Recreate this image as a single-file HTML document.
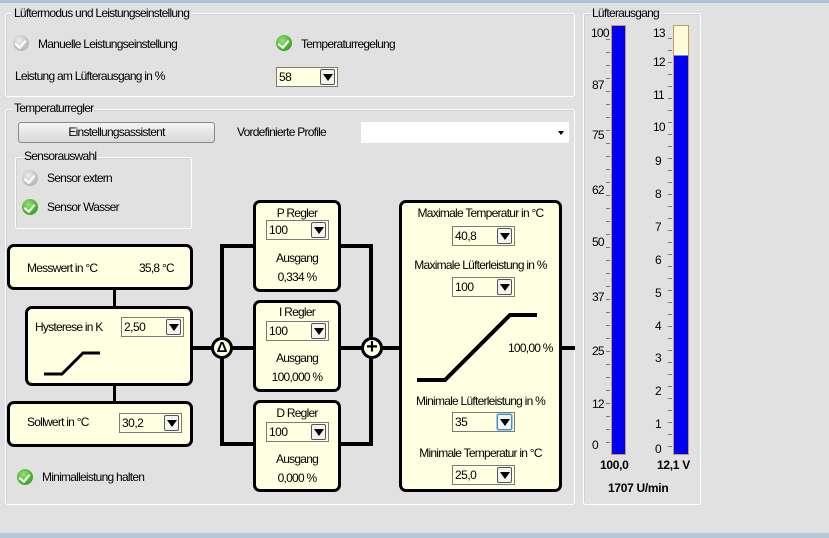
<!DOCTYPE html>
<html><head><meta charset="utf-8"><style>
*{box-sizing:border-box;margin:0;padding:0}
body{width:829px;height:538px;background:#e1e1e1;position:relative;overflow:hidden;font-family:"Liberation Sans",sans-serif;font-size:12px;color:#000}
.a{position:absolute}
.t{position:absolute;white-space:nowrap;line-height:14px;letter-spacing:-0.75px}
.grp{position:absolute;border:1px solid #fff;border-radius:3px;box-shadow:inset 1px 1px 0 #d0d0d0}
.lg{position:absolute;background:#e1e1e1;padding:0 2px;line-height:13px;white-space:nowrap;letter-spacing:-0.75px}
.box{position:absolute;background:#ffffe1;border:3px solid #000;border-radius:7px}
.cb{position:absolute;background:#ffffe1;border:1px solid #7a7a7a;height:20px;line-height:18px;padding-left:2px;letter-spacing:-0.5px}
.cb i{position:absolute;right:2px;top:1px;width:15px;height:16px;border:1px solid #555;border-radius:2px;background:#f4f4f4}
.cb i:after{content:"";position:absolute;left:2px;top:4px;border-left:5px solid transparent;border-right:5px solid transparent;border-top:7px solid #000}
.ln{position:absolute;background:#000}
.ico{position:absolute;width:16px;height:16px;border-radius:50%}
.ico.g{background:radial-gradient(circle at 40% 35%,#9be27a,#3ca524 70%,#2b8a1a)}
.ico.x{background:radial-gradient(circle at 40% 35%,#eee,#b8b8b8 70%,#999)}
.ico:after{content:"";position:absolute;left:4px;top:3px;width:5px;height:8px;border-right:2.5px solid #fff;border-bottom:2.5px solid #fff;transform:rotate(40deg)}
.c{position:absolute;width:22px;height:22px;border-radius:50%;background:#ffffe1;border:3px solid #000;text-align:center;font-weight:bold;line-height:16px;font-size:15px}
.ct{text-align:center}
</style></head><body>
<div class="a" style="left:0;top:0;width:829px;height:3px;background:#aac2dc"></div>
<div class="a" style="left:0;top:533px;width:829px;height:5px;background:#b4c8dc"></div>

<div class="grp" style="left:5px;top:13px;width:570px;height:84px"></div>
<div class="lg" style="left:12px;top:7px">Lüftermodus und Leistungseinstellung</div>
<div class="ico x" style="left:13px;top:35px"></div><div class="t" style="left:38px;top:37px">Manuelle Leistungseinstellung</div>
<div class="ico g" style="left:276px;top:35px"></div><div class="t" style="left:301px;top:37px">Temperaturregelung</div>
<div class="t" style="left:15px;top:69px">Leistung am Lüfterausgang in %</div>
<div class="cb" style="left:276px;top:67px;width:62px">58<i></i></div>

<div class="grp" style="left:5px;top:109px;width:570px;height:396px"></div>
<div class="lg" style="left:12px;top:102px">Temperaturregler</div>
<div class="a" style="left:18px;top:122px;width:197px;height:21px;border:1px solid #8a8a8a;border-radius:3px;background:linear-gradient(#f4f4f4,#d8d8d8);text-align:center;line-height:19px;letter-spacing:-0.75px">Einstellungsassistent</div>
<div class="t" style="left:237px;top:125px">Vordefinierte Profile</div>
<div class="a" style="left:361px;top:122px;width:208px;height:21px;background:#fff"></div>
<div class="a" style="left:558px;top:131px;border-left:3.5px solid transparent;border-right:3.5px solid transparent;border-top:4px solid #000"></div>

<div class="grp" style="left:15px;top:157px;width:177px;height:72px"></div>
<div class="lg" style="left:22px;top:150px">Sensorauswahl</div>
<div class="ico x" style="left:22px;top:170px"></div><div class="t" style="left:47px;top:171px">Sensor extern</div>
<div class="ico g" style="left:22px;top:199px"></div><div class="t" style="left:47px;top:200px">Sensor Wasser</div>

<div class="ln" style="left:113px;top:288px;width:3px;height:20px"></div>
<div class="ln" style="left:113px;top:384px;width:3px;height:18px"></div>
<div class="ln" style="left:192px;top:346px;width:30px;height:4px"></div>
<div class="ln" style="left:220px;top:244px;width:4px;height:202px"></div>
<div class="ln" style="left:220px;top:244px;width:34px;height:4px"></div>
<div class="ln" style="left:220px;top:346px;width:34px;height:4px"></div>
<div class="ln" style="left:220px;top:442px;width:34px;height:4px"></div>
<div class="ln" style="left:369px;top:244px;width:4px;height:202px"></div>
<div class="ln" style="left:340px;top:244px;width:32px;height:4px"></div>
<div class="ln" style="left:340px;top:346px;width:60px;height:4px"></div>
<div class="ln" style="left:340px;top:442px;width:32px;height:4px"></div>
<div class="ln" style="left:561px;top:346px;width:14px;height:4px"></div>

<div class="box" style="left:7px;top:244px;width:186px;height:46px"></div>
<div class="t" style="left:27px;top:261px">Messwert in °C</div><div class="t" style="left:139px;top:261px">35,8 °C</div>
<div class="box" style="left:25px;top:306px;width:168px;height:80px"></div>
<div class="t" style="left:35px;top:320px">Hysterese in K</div>
<div class="cb" style="left:121px;top:317px;width:63px">2,50<i></i></div>
<svg class="a" style="left:0;top:0" width="829" height="538"><polyline points="44,374 62,374 83,353 100,353" fill="none" stroke="#000" stroke-width="3"/></svg>
<div class="box" style="left:7px;top:401px;width:186px;height:46px"></div>
<div class="t" style="left:27px;top:415px">Sollwert in °C</div>
<div class="cb" style="left:119px;top:413px;width:63px">30,2<i></i></div>

<div class="ico g" style="left:17px;top:469px"></div><div class="t" style="left:42px;top:470px">Minimalleistung halten</div>

<div class="c" style="left:211px;top:337px">Δ</div>
<div class="c" style="left:361px;top:337px;font-size:20px;line-height:15px">+</div>

<div class="box" style="left:253px;top:200px;width:88px;height:92px"></div>
<div class="t ct" style="left:253px;top:206px;width:88px">P Regler</div>
<div class="cb" style="left:266px;top:220px;width:63px">100<i></i></div>
<div class="t ct" style="left:253px;top:251px;width:88px">Ausgang</div>
<div class="t ct" style="left:253px;top:270px;width:88px">0,334 %</div>

<div class="box" style="left:253px;top:300px;width:88px;height:92px"></div>
<div class="t ct" style="left:253px;top:305px;width:88px">I Regler</div>
<div class="cb" style="left:266px;top:321px;width:63px">100<i></i></div>
<div class="t ct" style="left:253px;top:351px;width:88px">Ausgang</div>
<div class="t ct" style="left:253px;top:370px;width:88px">100,000 %</div>

<div class="box" style="left:253px;top:400px;width:88px;height:92px"></div>
<div class="t ct" style="left:253px;top:406px;width:88px">D Regler</div>
<div class="cb" style="left:266px;top:422px;width:63px">100<i></i></div>
<div class="t ct" style="left:253px;top:452px;width:88px">Ausgang</div>
<div class="t ct" style="left:253px;top:471px;width:88px">0,000 %</div>

<div class="box" style="left:399px;top:200px;width:163px;height:292px"></div>
<div class="t ct" style="left:399px;top:206px;width:163px">Maximale Temperatur in °C</div>
<div class="cb" style="left:452px;top:226px;width:63px">40,8<i></i></div>
<div class="t ct" style="left:399px;top:258px;width:163px">Maximale Lüfterleistung in %</div>
<div class="cb" style="left:452px;top:277px;width:63px">100<i></i></div>
<svg class="a" style="left:0;top:0" width="829" height="538"><polyline points="417,380 445,380 510,315 537,315" fill="none" stroke="#000" stroke-width="4"/></svg>
<div class="t" style="left:508px;top:341px">100,00 %</div>
<div class="t ct" style="left:399px;top:394px;width:163px">Minimale Lüfterleistung in %</div>
<div class="cb" style="left:452px;top:412px;width:63px">35<i style="border-color:#3c8fd8;box-shadow:0 0 0 1px #9cd"></i></div>
<div class="t ct" style="left:399px;top:446px;width:163px">Minimale Temperatur in °C</div>
<div class="cb" style="left:452px;top:465px;width:63px">25,0<i></i></div>

<div class="grp" style="left:583px;top:13px;width:118px;height:492px"></div>
<div class="lg" style="left:590px;top:7px">Lüfterausgang</div>
<div class="a" style="left:611px;top:25px;width:15px;height:430px;background:#0000f0;border:1px solid #c89a5a"></div>
<div class="a" style="left:673px;top:25px;width:16px;height:430px;background:#fffbd8;border:1px solid #c89a5a"></div>
<div class="a" style="left:674px;top:55px;width:14px;height:399px;background:#0000f0;border-top:1px solid #6d8ce0"></div>
<div class="a" style="left:606px;top:27px;width:4px;height:427px;background:repeating-linear-gradient(#e1e1e1 0,#e1e1e1 12px,#777 12px,#777 13px)"></div>
<div class="a" style="left:668px;top:27px;width:4px;height:427px;background:repeating-linear-gradient(#e1e1e1 0,#e1e1e1 11px,#777 11px,#777 12px)"></div>
<div class="t" style="left:591px;top:26px">100</div>
<div class="t" style="left:592px;top:78px">87</div>
<div class="t" style="left:592px;top:128px">75</div>
<div class="t" style="left:592px;top:183px">62</div>
<div class="t" style="left:592px;top:235px">50</div>
<div class="t" style="left:592px;top:290px">37</div>
<div class="t" style="left:592px;top:344px">25</div>
<div class="t" style="left:592px;top:397px">12</div>
<div class="t" style="left:592px;top:438px">0</div>
<div class="t" style="left:653px;top:26px">13</div>
<div class="t" style="left:653px;top:55px">12</div>
<div class="t" style="left:653px;top:88px">11</div>
<div class="t" style="left:653px;top:120px">10</div>
<div class="t" style="left:655px;top:154px">9</div>
<div class="t" style="left:655px;top:187px">8</div>
<div class="t" style="left:655px;top:220px">7</div>
<div class="t" style="left:655px;top:253px">6</div>
<div class="t" style="left:655px;top:286px">5</div>
<div class="t" style="left:655px;top:319px">4</div>
<div class="t" style="left:655px;top:351px">3</div>
<div class="t" style="left:655px;top:384px">2</div>
<div class="t" style="left:655px;top:417px">1</div>
<div class="t" style="left:655px;top:442px">0</div>
<div class="t" style="left:600px;top:458px;font-weight:bold;letter-spacing:-0.3px">100,0</div>
<div class="t" style="left:657px;top:458px;font-weight:bold;letter-spacing:-0.3px">12,1 V</div>
<div class="t" style="left:608px;top:481px;font-weight:bold;letter-spacing:-0.3px">1707 U/min</div>
</body></html>
